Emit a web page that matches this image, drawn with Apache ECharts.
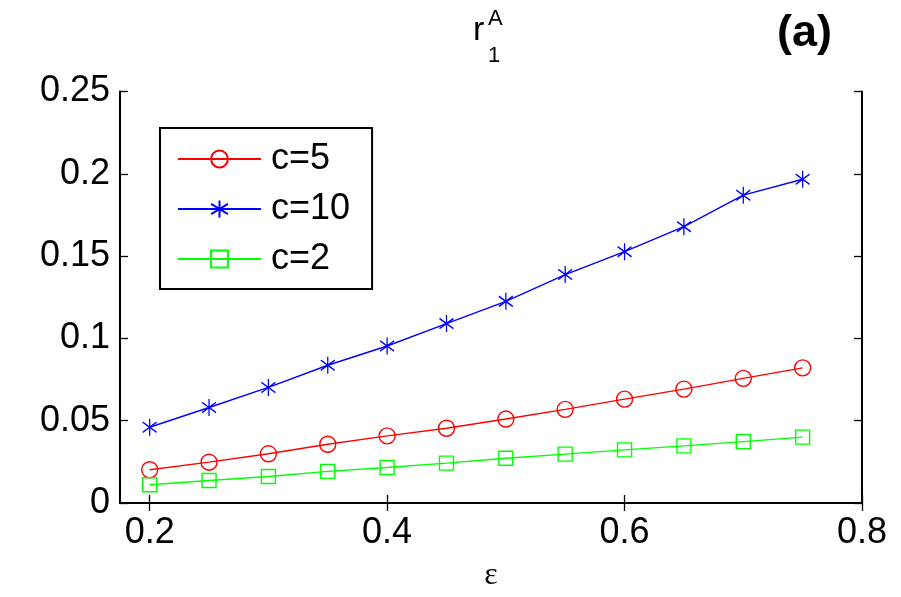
<!DOCTYPE html>
<html>
<head>
<meta charset="utf-8">
<script src="https://cdn.jsdelivr.net/npm/echarts@6/dist/echarts.min.js"></script>
<style>
    html, body { margin: 0; padding: 0; background: #fff; }
    #chart { width: 901px; height: 597px; }
</style>
</head>
<body>
<div id="chart"></div>
<script>
var epsilon = [0.2, 0.25, 0.3, 0.35, 0.4, 0.45, 0.5, 0.55, 0.6, 0.65, 0.7, 0.75];
var c5 = [0.0202, 0.0248, 0.0299, 0.0357, 0.0408, 0.0454, 0.0510, 0.0569, 0.0631, 0.0692, 0.0757, 0.0821];
var c10 = [0.0460, 0.0580, 0.0702, 0.0837, 0.0954, 0.1090, 0.1225, 0.1388, 0.1527, 0.1679, 0.1870, 0.1967];
var c2 = [0.0111, 0.0137, 0.0161, 0.0192, 0.0216, 0.0242, 0.0272, 0.0297, 0.0323, 0.0347, 0.0373, 0.0400];
var xTicks = [0.2, 0.4, 0.6, 0.8];
var seriesNames = ['c=5', 'c=10', 'c=2'];

function pairs(ys) {
    return epsilon.map(function (x, i) { return [x, ys[i]]; });
}

var font = 'Liberation Sans, Arial, sans-serif';
// matlab style asterisk marker
var star = 'path://M0,-10L0,10M-8,-6L8,6M-8,6L8,-6';

function lineSeries(name, ys, color, symbol, size) {
    return {
        name: name,
        type: 'line',
        data: pairs(ys),
        symbol: symbol,
        symbolSize: size,
        lineStyle: { color: color, width: 1.4 },
        itemStyle: { color: 'rgba(0,0,0,0)', borderColor: color, borderWidth: 1.4 },
        emphasis: { disabled: true }
    };
}

var chart = echarts.init(document.getElementById('chart'));
chart.setOption({
    animation: false,
    grid: { left: 120, right: 39, top: 91.5, bottom: 92 },
    legend: {
        data: seriesNames,
        orient: 'vertical',
        left: 160,
        top: 128,
        padding: [13, 22, 12, 17],
        itemWidth: 83,
        itemHeight: 21,
        itemGap: 14,
        backgroundColor: '#fff',
        borderColor: '#000',
        borderWidth: 2,
        textStyle: { fontFamily: font, fontSize: 36, color: '#000', lineHeight: 36, padding: [0, 0, 0, 5] }
    },
    graphic: [
        { type: 'text', left: 473, top: 14, style: { text: 'r', font: '34px ' + font, fill: '#000' } },
        { type: 'text', left: 488, top: 8, style: { text: 'A', font: '22px ' + font, fill: '#000' } },
        { type: 'text', left: 488, top: 45, style: { text: '1', font: '22px ' + font, fill: '#000' } },
        { type: 'text', left: 777, top: 11, style: { text: '(a)', font: 'bold 45px ' + font, fill: '#000' } }
    ],
    xAxis: [{
        type: 'value',
        min: 0.175,
        max: 0.8,
        name: 'ε',
        nameLocation: 'middle',
        nameGap: 57,
        nameTextStyle: { fontFamily: 'Liberation Serif, serif', fontSize: 32, color: '#000' },
        axisLine: { lineStyle: { color: '#000', width: 2 } },
        axisTick: { inside: true, length: 8, lineStyle: { color: '#000', width: 1.3 }, customValues: xTicks },
        axisLabel: { customValues: xTicks, margin: 12, fontFamily: font, fontSize: 36, color: '#000' },
        splitLine: { show: false }
    }, {
        type: 'value',
        position: 'top',
        min: 0.175,
        max: 0.8,
        axisLine: { lineStyle: { color: '#000', width: 2 } },
        axisTick: { inside: true, length: 8, lineStyle: { color: '#000', width: 1.3 }, customValues: xTicks },
        axisLabel: { show: false },
        splitLine: { show: false }
    }],
    yAxis: [{
        type: 'value',
        min: 0,
        max: 0.25,
        interval: 0.05,
        axisLine: { show: true, lineStyle: { color: '#000', width: 2 } },
        axisTick: { show: true, inside: true, length: 8, lineStyle: { color: '#000', width: 1.3 } },
        axisLabel: { margin: 10, fontFamily: font, fontSize: 36, color: '#000' },
        splitLine: { show: false }
    }, {
        type: 'value',
        position: 'right',
        min: 0,
        max: 0.25,
        interval: 0.05,
        axisLine: { show: true, lineStyle: { color: '#000', width: 2 } },
        axisTick: { show: true, inside: true, length: 8, lineStyle: { color: '#000', width: 1.3 } },
        axisLabel: { show: false },
        splitLine: { show: false }
    }],
    series: [
        lineSeries('c=5', c5, '#ff0000', 'circle', 16),
        lineSeries('c=10', c10, '#0000ff', star, [14, 17]),
        lineSeries('c=2', c2, '#00ff00', 'rect', 14)
    ]
});
</script>
</body>
</html>
